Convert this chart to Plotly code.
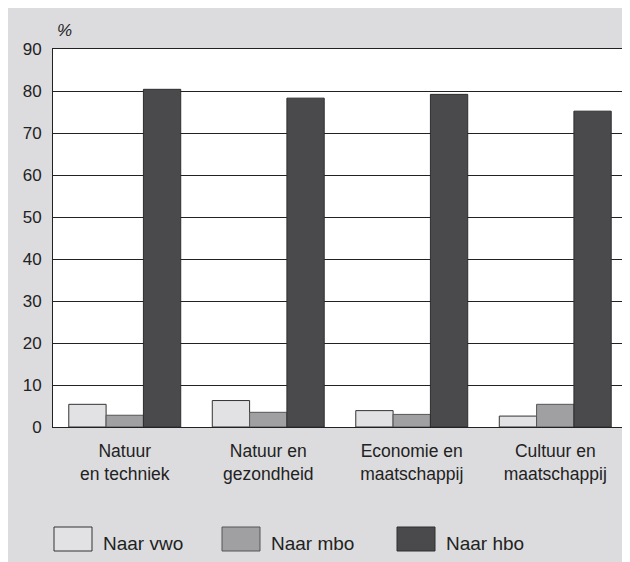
import plotly.graph_objects as go

categories = ["Natuur<br>en techniek", "Natuur en<br>gezondheid", "Economie en<br>maatschappij", "Cultuur en<br>maatschappij"]
series_names = ["Naar vwo", "Naar mbo", "Naar hbo"]
vwo = [5.4, 6.3, 3.9, 2.6]
mbo = [2.8, 3.5, 3.0, 5.4]
hbo = [80.4, 78.3, 79.2, 75.2]
y_ticks = [0, 10, 20, 30, 40, 50, 60, 70, 80, 90]

fills = ["#e2e2e4", "#a0a0a2", "#4a4a4c"]
edges = ["#333333", "#555555", "#2e2e2e"]

OFF = 8  # page body margin
W, H = 630, 562
L, T = 53 - OFF, 49 - OFF
R = W - (627 - OFF)
B = H - (427 - OFF)
pw, ph = W - L - R, H - T - B

def px(x):
    return (x - OFF - L) / pw

def py(y):
    return (H - B - (y - OFF)) / ph

font = "Liberation Sans, Arial, Helvetica, sans-serif"

fig = go.Figure()
for name, vals, fc, ec in zip(series_names, [vwo, mbo, hbo], fills, edges):
    fig.add_trace(go.Bar(x=categories, y=vals, name=name,
                         marker=dict(color=fc, line=dict(color=ec, width=1))))

shapes = []
annotations = [
    dict(text="<i>%</i>", xref="paper", yref="paper", x=px(55), y=py(31), xanchor="left", yanchor="middle",
         showarrow=False, font=dict(family=font, size=17, color="#222")),
]
legend_x = [54, 222, 397]
for lx, name, fc, ec in zip(legend_x, series_names, fills, edges):
    shapes.append(dict(type="rect", xref="paper", yref="paper", x0=px(lx), x1=px(lx + 38),
                       y0=py(551), y1=py(527), fillcolor=fc, line=dict(color=ec, width=1)))
    annotations.append(dict(text=name, xref="paper", yref="paper", x=px(lx + 47), y=py(543),
                            xanchor="left", yanchor="middle", showarrow=False,
                            font=dict(family=font, size=19, color="#222")))

fig.update_layout(
    width=W, height=H,
    margin=dict(l=L, r=R, t=T, b=B, pad=0),
    paper_bgcolor="#dcdcde", plot_bgcolor="white",
    barmode="group", bargap=0.22, bargroupgap=0,
    showlegend=False,
    font=dict(family=font, size=17, color="#222"),
    shapes=shapes, annotations=annotations,
    xaxis=dict(showline=True, mirror=True, linecolor="#222", linewidth=1, ticks="",
               tickfont=dict(size=17.5), ticklabelstandoff=8, showgrid=False),
    yaxis=dict(range=[0, 90], tickvals=y_ticks, showline=True, mirror=True, linecolor="#222",
               linewidth=1, showgrid=True, gridcolor="#222", gridwidth=1, ticks="",
               tickfont=dict(size=17), ticklabelstandoff=7, zeroline=False, fixedrange=True),
)

fig.write_html("out.html")
